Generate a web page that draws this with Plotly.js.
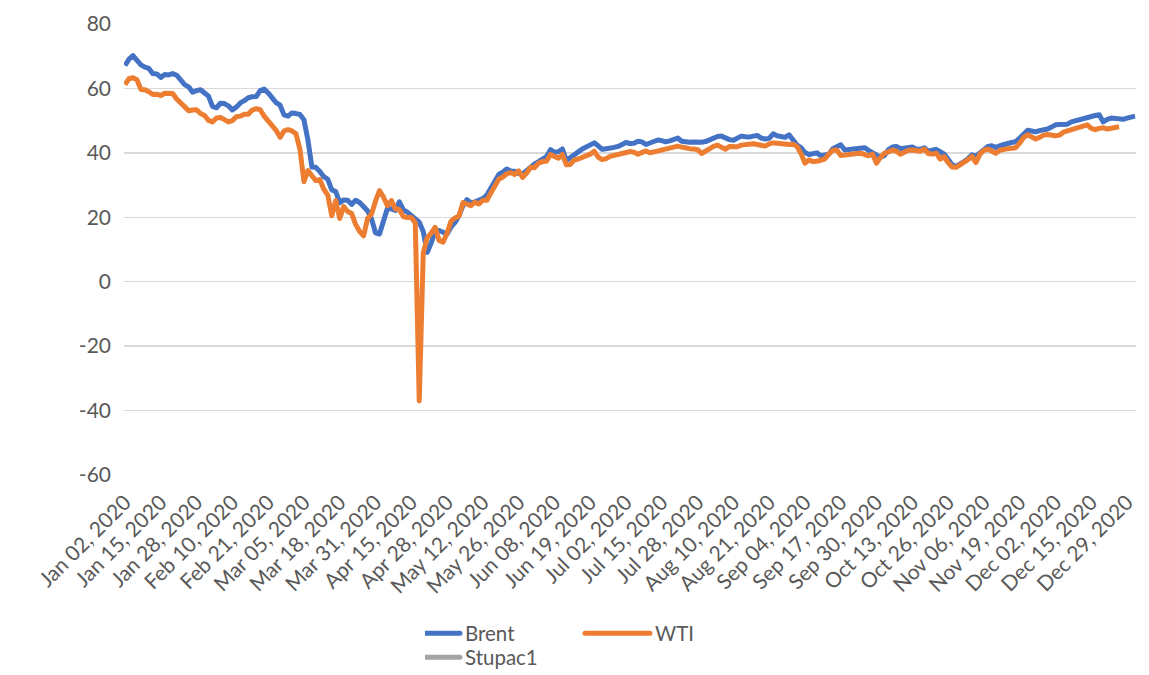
<!DOCTYPE html>
<html><head><meta charset="utf-8">
<script src="https://cdn.plot.ly/plotly-3.0.1.min.js"></script>
<style>html,body{margin:0;padding:0;background:#fff}#chart{width:1149px;height:675px}</style>
</head><body><div id="chart"></div>
<script>
// Trading days of 2020 that are not in the data (besides weekends)
const skippedDays = ['2020-01-01','2020-04-10','2020-04-13','2020-05-08','2020-05-25','2020-08-31','2020-12-25'];

const tickLabels = ['Jan 02, 2020','Jan 15, 2020','Jan 28, 2020','Feb 10, 2020','Feb 21, 2020','Mar 05, 2020',
  'Mar 18, 2020','Mar 31, 2020','Apr 15, 2020','Apr 28, 2020','May 12, 2020','May 26, 2020','Jun 08, 2020',
  'Jun 19, 2020','Jul 02, 2020','Jul 15, 2020','Jul 28, 2020','Aug 10, 2020','Aug 21, 2020','Sep 04, 2020',
  'Sep 17, 2020','Sep 30, 2020','Oct 13, 2020','Oct 26, 2020','Nov 06, 2020','Nov 19, 2020','Dec 02, 2020',
  'Dec 15, 2020','Dec 29, 2020'];

const yTickValues = [-60, -40, -20, 0, 20, 40, 60, 80];
const yTickLabels = ['-60', '-40', '-20', '0', '20', '40', '60', '80'];

const brent = [
  67.1, 69.1, 70.2, 68.7, 67.3, 66.6, 66.2, 64.6, 64.5, 63.4,
  64.3, 64.2, 64.6, 64.1, 62.6, 61.2, 60.5, 58.8, 59.3, 59.6,
  58.6, 57.6, 54.4, 54.0, 55.4, 55.3, 54.6, 53.3, 54.2, 55.5,
  56.2, 57.1, 57.4, 57.5, 59.3, 59.8, 58.6, 57.2, 55.6, 54.8,
  51.8, 51.4, 52.4, 52.2, 51.9, 50.3, 44.0, 35.6, 35.5, 34.2,
  32.6, 31.8, 28.5, 28.0, 24.5, 25.4, 25.3, 24.0, 25.3, 24.6,
  23.4, 22.0, 19.5, 15.2, 14.8, 18.8, 22.8, 22.6, 22.1, 24.8,
  22.3, 21.6, 20.4, 19.6, 18.5, 15.6, 9.1, 12.0, 15.6, 15.9,
  15.4, 14.8, 17.0, 18.4, 20.5, 23.6, 25.5, 24.5, 24.8, 25.3,
  25.8, 26.9, 29.2, 31.7, 33.3, 34.0, 35.0, 34.4, 34.3, 33.6,
  33.4, 34.5, 35.8, 36.6, 37.3, 37.9, 38.8, 41.0, 40.1, 40.4,
  41.2, 37.6, 38.6, 39.7, 40.3, 41.2, 41.9, 42.4, 43.1, 42.2,
  41.1, 41.3, 41.4, 41.7, 42.0, 42.5, 43.2, 42.9, 43.0, 43.6,
  43.4, 42.6, 43.2, 43.4, 44.0, 43.8, 43.4, 43.7, 44.2, 44.6,
  43.6, 43.4, 43.3, 43.4, 43.2, 43.3, 43.5, 44.1, 44.6, 45.1,
  45.2, 44.5, 44.1, 43.9, 44.6, 45.2, 45.0, 44.9, 45.2, 45.4,
  44.6, 44.3, 44.5, 45.9, 45.3, 44.9, 44.8, 45.6, 44.0, 42.4,
  41.6, 40.1, 39.5, 39.8, 40.0, 39.1, 39.2, 39.6, 41.3, 42.0,
  42.5, 40.9, 41.0, 41.3, 41.2, 41.4, 41.6, 40.8, 40.2, 39.4,
  38.6, 39.2, 41.0, 41.8, 42.0, 41.3, 41.5, 41.7, 41.8, 41.2,
  41.1, 41.6, 40.5, 40.8, 41.1, 40.4, 39.6, 38.0, 36.3, 35.8,
  36.4, 37.3, 38.2, 39.4, 39.0, 40.1, 41.4, 42.0, 42.2, 41.7,
  42.2, 42.7, 42.9, 43.2, 43.5, 44.6, 46.0, 47.0, 46.8, 46.5,
  46.9, 47.0, 47.4, 48.0, 48.7, 48.8, 48.7, 48.9, 49.6, 50.0,
  50.3, 50.6, 50.9, 51.2, 51.6, 51.8, 49.6, 50.4, 50.8, 50.7,
  50.6, 50.4, 50.8, 51.1, 51.4
];

const wti = [
  61.2, 63.0, 63.3, 62.7, 59.7, 59.6, 59.0, 58.1, 58.2, 57.8,
  58.5, 58.6, 58.4, 56.7, 55.6, 54.2, 53.1, 53.3, 53.4, 52.2,
  51.6, 50.1, 49.6, 50.8, 51.0, 50.3, 49.6, 50.0, 51.2, 51.4,
  52.0, 52.0, 53.3, 53.7, 53.4, 51.4, 49.9, 48.7, 47.0, 44.8,
  46.8, 47.2, 46.8, 45.9, 41.1, 31.1, 34.5, 32.9, 31.4, 31.7,
  28.7, 26.9, 20.5, 25.2, 19.6, 23.3, 21.8, 21.2, 17.8, 15.6,
  14.2, 19.6, 21.0, 25.0, 28.3, 26.3, 23.6, 25.2, 22.6, 22.4,
  20.2, 19.9, 19.9, 18.3, -37.0, 8.9, 13.6, 15.1, 16.9, 12.8,
  12.3, 15.1, 18.8, 19.8, 20.4, 24.6, 24.0, 23.6, 24.7, 24.1,
  25.3, 25.3, 27.5, 29.4, 31.8, 32.5, 33.5, 33.9, 33.3, 34.4,
  32.4, 33.7, 35.5, 35.4, 36.8, 37.3, 37.4, 39.5, 38.9, 38.3,
  39.5, 36.3, 36.4, 37.8, 38.1, 38.5, 38.9, 39.6, 40.5, 38.7,
  37.9, 38.2, 38.9, 39.3, 39.6, 39.8, 40.1, 40.4, 40.2, 39.6,
  40.3, 40.6, 40.0, 40.3, 40.6, 41.0, 41.2, 41.4, 41.6, 42.1,
  41.8, 41.4, 41.3, 41.2, 41.0, 39.8, 40.6, 41.2, 42.0, 42.4,
  41.7, 41.1, 42.0, 41.9, 41.9, 42.4, 42.6, 42.9, 42.8, 42.6,
  42.3, 42.1, 42.8, 43.1, 43.0, 42.8, 42.7, 42.6, 42.7, 42.0,
  39.8, 36.8, 37.8, 37.3, 37.4, 37.6, 38.1, 39.6, 40.8, 40.9,
  39.2, 39.3, 39.6, 39.7, 39.8, 39.9, 39.4, 39.1, 39.6, 36.8,
  38.6, 39.9, 40.3, 40.9, 40.5, 39.6, 40.2, 40.8, 40.9, 40.6,
  40.5, 41.2, 39.8, 39.6, 39.9, 38.1, 38.8, 37.0, 35.6, 35.5,
  36.2, 37.0, 37.9, 38.9, 37.0, 39.6, 40.8, 41.2, 40.6, 39.9,
  40.8, 41.2, 41.3, 41.4, 41.6, 43.0, 44.8, 45.6, 45.1, 44.3,
  44.8, 45.5, 45.7, 45.4, 45.3, 45.5, 46.4, 46.8, 47.2, 47.6,
  48.0, 48.3, 48.7, 47.6, 47.2, 47.6, 47.8, 47.4, 47.7, 47.9,
  48.1
];

// Third series has no values (only appears in the legend)
const stupac1 = [null];

// Category labels: every weekday of 2020 except the skipped days
const monthNames = ['Jan','Feb','Mar','Apr','May','Jun','Jul','Aug','Sep','Oct','Nov','Dec'];
const dates = [];
for (let d = new Date(Date.UTC(2020, 0, 1)); d.getUTCFullYear() === 2020; d.setUTCDate(d.getUTCDate() + 1)) {
  const dow = d.getUTCDay();
  if (dow === 0 || dow === 6) continue;
  if (skippedDays.includes(d.toISOString().slice(0, 10))) continue;
  dates.push(monthNames[d.getUTCMonth()] + ' ' + String(d.getUTCDate()).padStart(2, '0') + ', 2020');
}

const FONT = 'Lato, Carlito, "Open Sans", sans-serif';
const GREY = '#595959';

const traces = [
  {x: dates.slice(0, brent.length), y: brent, name: 'Brent', type: 'scatter', mode: 'lines',
   line: {color: '#4472C4', width: 5}, legend: 'legend'},
  {x: dates.slice(0, wti.length), y: wti, name: 'WTI', type: 'scatter', mode: 'lines',
   line: {color: '#ED7D31', width: 5}, legend: 'legend'},
  {x: dates.slice(0, stupac1.length), y: stupac1, name: 'Stupac1', type: 'scatter', mode: 'lines',
   line: {color: '#A5A5A5', width: 5}, legend: 'legend2', showlegend: true}
];

const layout = {
  width: 1149, height: 675,
  margin: {l: 124, r: 13, t: 24, b: 200, autoexpand: false},
  paper_bgcolor: '#ffffff', plot_bgcolor: '#ffffff',
  font: {family: FONT, size: 20, color: GREY},
  showlegend: true,
  xaxis: {
    type: 'category', categoryorder: 'array', categoryarray: dates,
    range: [-0.25, dates.length - 0.75],
    tickmode: 'array', tickvals: tickLabels, ticktext: tickLabels, tickangle: -45,
    showgrid: false, zeroline: false, showline: false, ticks: '',
    ticklabelstandoff: 10, automargin: false,
    tickfont: {family: FONT, size: 21, color: GREY}
  },
  yaxis: {
    range: [-60, 80], tickmode: 'array', tickvals: yTickValues, ticktext: yTickLabels,
    gridcolor: '#D9D9D9', gridwidth: 1.5,
    zeroline: false, showline: false, ticks: '',
    ticklabelstandoff: 12, automargin: false,
    tickfont: {family: FONT, size: 21, color: GREY}
  },
  legend: {
    orientation: 'h', x: 0.2974, xanchor: 'left', y: -0.307, yanchor: 'top',
    entrywidth: 145, entrywidthmode: 'pixels',
    font: {family: FONT, size: 20.5, color: GREY}, bgcolor: 'rgba(0,0,0,0)'
  },
  legend2: {
    orientation: 'h', x: 0.2974, xanchor: 'left', y: -0.36, yanchor: 'top',
    font: {family: FONT, size: 20.5, color: GREY}, bgcolor: 'rgba(0,0,0,0)'
  }
};

Plotly.newPlot('chart', traces, layout, {displayModeBar: false, staticPlot: true}).then(function (gd) {
  // Excel-style legend keys: longer line samples with round caps
  gd.querySelectorAll('.legendlines path').forEach(function (p) {
    p.setAttribute('d', 'M-30,0h65');
    p.style.strokeLinecap = 'round';
  });
  gd.querySelectorAll('.scatterlayer .js-line').forEach(function (p) {
    p.style.strokeLinejoin = 'round';
  });
});
</script>
</body></html>
